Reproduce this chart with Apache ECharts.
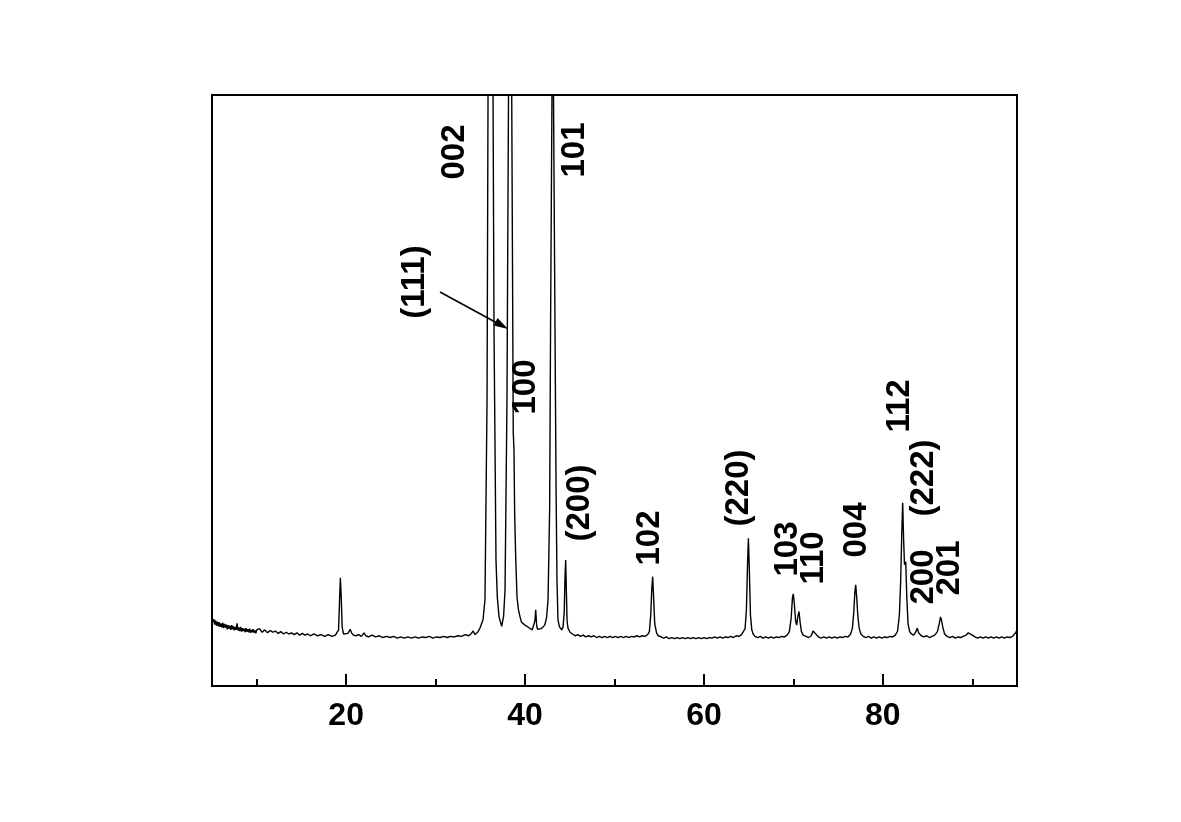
<!DOCTYPE html>
<html>
<head>
<meta charset="utf-8">
<title>XRD pattern</title>
<script src="https://cdn.jsdelivr.net/npm/echarts@6/dist/echarts.min.js"></script>
<style>
  html, body { margin: 0; padding: 0; background: #fff; }
  #chart { width: 1181px; height: 822px; }
</style>
</head>
<body>
<div id="chart"></div>
<script>
// 2-theta (deg), intensity (arb. units)
const twoTheta = [
  5.0, 5.1, 5.2, 5.3, 5.4, 5.5, 5.6, 5.7, 5.8, 5.9, 6.0, 6.1, 6.2, 6.3, 6.4, 6.5, 6.6, 6.7, 6.8, 6.9,
  7.0, 7.1, 7.2, 7.3, 7.4, 7.5, 7.6, 7.7, 7.8, 7.9, 8.0, 8.1, 8.2, 8.3, 8.4, 8.5, 8.6, 8.7, 8.8, 8.9,
  9.0, 9.1, 9.2, 9.3, 9.4, 9.5, 9.6, 9.7, 9.8, 9.9, 10.0,
  10.3, 10.6, 10.9, 11.2, 11.5, 11.8, 12.1, 12.4, 12.7, 13.0, 13.3, 13.6, 13.9, 14.2,
  14.5, 14.8, 15.1, 15.4, 15.7, 16.0, 16.4, 16.8, 17.2, 17.6, 18.0, 18.4, 18.8, 19.0, 19.15, 19.25, 19.35, 19.45, 19.55, 19.7,
  19.9, 20.2, 20.45, 20.6, 20.8, 21.1, 21.4, 21.7, 22.0, 22.2, 22.5, 22.9, 23.3, 23.7, 24.1, 24.5, 24.9, 25.3, 25.7, 26.1,
  26.5, 26.9, 27.3, 27.7, 28.1, 28.5, 28.9, 29.3, 29.7, 30.1, 30.5, 30.9, 31.3, 31.7, 32.1, 32.5, 32.9, 33.3, 33.7, 34.0,
  34.2, 34.4, 34.7, 34.96, 35.3, 35.52, 35.75, 35.86, 36.14, 36.42, 36.53, 36.75, 36.9, 37.09, 37.25, 37.39, 37.5, 37.6, 37.76, 37.98,
  38.15, 38.32, 38.51, 38.6, 38.68, 38.76, 38.8, 38.84, 38.95, 39.1, 39.25, 39.44, 39.6, 39.8, 40.0, 40.2, 40.4, 40.6, 40.8, 41.0,
  41.1, 41.19, 41.3, 41.4, 41.6, 41.8, 42.0, 42.2, 42.4, 42.57, 42.75, 42.85, 43.01, 43.09, 43.18, 43.35, 43.47, 43.57, 43.68, 43.85,
  44.1, 44.25, 44.38, 44.46, 44.54, 44.62, 44.7, 44.8, 45.03, 45.3, 45.6, 45.9, 46.2, 46.5, 46.8, 47.1, 47.4, 47.7, 48.0, 48.3,
  48.6, 48.9, 49.2, 49.5, 49.8, 50.1, 50.4, 50.7, 51.0, 51.3, 51.6, 51.9, 52.2, 52.5, 52.8, 53.1, 53.4, 53.7, 53.9, 54.05,
  54.17, 54.27, 54.37, 54.5, 54.7, 54.9, 55.2, 55.5, 55.8, 56.1, 56.4, 56.7, 57.0, 57.3, 57.6, 57.9, 58.2, 58.5, 58.8, 59.1,
  59.4, 59.7, 60.0, 60.3, 60.6, 60.9, 61.2, 61.5, 61.8, 62.1, 62.4, 62.7, 63.0, 63.3, 63.6, 63.9, 64.2, 64.4, 64.6, 64.75,
  64.88, 64.97, 65.07, 65.2, 65.35, 65.5, 65.7, 66.0, 66.3, 66.6, 66.9, 67.2, 67.5, 67.8, 68.1, 68.4, 68.7, 69.0, 69.3, 69.55,
  69.75, 69.9, 69.99, 70.1, 70.25, 70.37, 70.5, 70.63, 70.75, 70.9, 71.1, 71.4, 71.7, 72.0, 72.2, 72.34, 72.5, 72.8, 73.1, 73.4,
  73.7, 74.0, 74.3, 74.6, 74.9, 75.2, 75.5, 75.8, 76.1, 76.4, 76.6, 76.75, 76.88, 76.97, 77.08, 77.2, 77.35, 77.55, 77.8, 78.1,
  78.4, 78.7, 79.0, 79.3, 79.6, 79.9, 80.2, 80.5, 80.8, 81.1, 81.4, 81.65, 81.85, 82.0, 82.12, 82.22, 82.32, 82.42, 82.56, 82.68,
  82.82, 83.0, 83.2, 83.45, 83.7, 83.86, 84.0, 84.3, 84.6, 84.9, 85.2, 85.5, 85.8, 86.1, 86.3, 86.45, 86.55, 86.7, 86.9, 87.2,
  87.5, 87.8, 88.1, 88.4, 88.7, 89.0, 89.3, 89.55, 89.75, 90.0, 90.3, 90.6, 90.9, 91.2, 91.5, 91.8, 92.1, 92.4, 92.7, 93.0,
  93.3, 93.6, 93.9, 94.2, 94.5, 94.7, 94.85, 95.0
];
const intensity = [
  118, 108, 113, 104, 111, 102, 109, 101, 108, 100, 106, 99, 107, 98, 105, 99, 104, 96, 103, 97,
  102, 95, 103, 96, 101, 94, 100, 95, 106, 94, 99, 93, 100, 92, 98, 93, 97, 91, 98, 92,
  96, 91, 97, 90, 95, 91, 96, 90, 94, 89, 95,
  97, 91, 95, 90, 94, 91, 93, 89, 92, 88, 91, 88, 90, 87,
  90, 86, 89, 86, 88, 85, 88, 85, 87, 84, 87, 84, 86, 85, 95, 140, 183, 150, 100, 88,
  86, 89, 96, 90, 86, 85, 87, 84, 90, 85, 83, 86, 83, 85, 82, 84, 82, 84, 81, 83,
  81, 83, 81, 83, 81, 83, 82, 84, 81, 83, 82, 84, 82, 84, 83, 85, 84, 87, 85, 89,
  93, 87, 91, 98, 112, 146, 484, 1000, 4000, 1000, 602, 213, 150, 117, 108, 101, 110, 118, 162, 484,
  1000, 5000, 1000, 700, 430, 400, 403, 290, 220, 151, 130, 117, 108, 110, 103, 106, 99, 101, 95, 97,
  110, 129, 102, 96, 93, 97, 94, 103, 115, 146, 300, 602, 1000, 1150, 1000, 602, 330, 179, 112, 100,
  95, 100, 125, 180, 213, 160, 110, 98, 91, 88, 85, 87, 84, 86, 83, 85, 83, 85, 82, 84,
  82, 84, 82, 84, 82, 84, 82, 84, 82, 84, 82, 84, 83, 85, 83, 85, 84, 87, 92, 120,
  165, 185, 150, 105, 90, 85, 83, 81, 83, 80, 82, 80, 82, 80, 82, 80, 82, 80, 82, 80,
  82, 80, 82, 80, 82, 81, 83, 81, 83, 81, 83, 82, 84, 82, 85, 84, 87, 90, 97, 130,
  210, 250, 200, 120, 95, 88, 84, 82, 84, 81, 83, 81, 83, 81, 83, 82, 84, 83, 86, 92,
  115, 150, 156, 140, 110, 103, 118, 126, 108, 92, 86, 84, 82, 85, 93, 96, 88, 83, 81, 83,
  81, 83, 81, 83, 81, 83, 82, 84, 83, 88, 98, 125, 160, 171, 150, 120, 98, 88, 84, 82,
  84, 81, 83, 81, 83, 81, 83, 82, 84, 83, 86, 93, 120, 180, 260, 310, 250, 205, 210, 150,
  105, 92, 88, 86, 92, 98, 90, 85, 83, 85, 82, 84, 86, 92, 105, 117, 112, 100, 88, 84,
  82, 84, 81, 83, 82, 84, 86, 90, 90, 86, 83, 81, 83, 81, 83, 81, 83, 81, 83, 81,
  83, 81, 83, 82, 84, 86, 90, 95
];
const majorTicks = [20, 40, 60, 80];
const minorTicks = [10, 30, 50, 70, 90];

const chart = echarts.init(document.getElementById('chart'), null, { renderer: 'canvas' });

const labelFont = 'bold 33px "Liberation Sans", Arial, sans-serif';
function peakLabel(text, x, y) {
  return {
    type: 'text',
    x: x,
    y: y,
    rotation: Math.PI / 2,
    style: {
      text: text,
      font: labelFont,
      fill: '#000',
      align: 'center',
      verticalAlign: 'middle'
    },
    z: 100
  };
}

chart.setOption({
  animation: false,
  backgroundColor: '#fff',
  grid: {
    left: 212,
    top: 95,
    right: 164,
    bottom: 136,
    show: true,
    borderColor: '#000',
    borderWidth: 2
  },
  xAxis: [
    {
      type: 'value',
      min: 5,
      max: 95,
      axisLine: { show: true, lineStyle: { color: '#000', width: 2 } },
      axisTick: {
        show: true,
        inside: true,
        length: 12,
        customValues: majorTicks,
        lineStyle: { color: '#000', width: 2 }
      },
      axisLabel: {
        customValues: majorTicks,
        color: '#000',
        fontSize: 32,
        fontWeight: 'bold',
        fontFamily: '"Liberation Sans", Arial, sans-serif',
        margin: 14
      },
      splitLine: { show: false }
    },
    {
      type: 'value',
      min: 5,
      max: 95,
      position: 'bottom',
      axisLine: { show: false },
      axisTick: {
        show: true,
        inside: true,
        length: 7,
        customValues: minorTicks,
        lineStyle: { color: '#000', width: 2 }
      },
      axisLabel: { show: false },
      splitLine: { show: false }
    }
  ],
  yAxis: {
    type: 'value',
    min: 0,
    max: 1000,
    axisLine: { show: true, lineStyle: { color: '#000', width: 2 } },
    axisTick: { show: false },
    axisLabel: { show: false },
    splitLine: { show: false }
  },
  series: [
    {
      type: 'line',
      xAxisIndex: 0,
      data: twoTheta.map((t, i) => [t, intensity[i]]),
      showSymbol: false,
      symbol: 'none',
      clip: true,
      lineStyle: { color: '#000', width: 1.4 }
    }
  ],
  graphic: [
    peakLabel('002', 455, 152),
    peakLabel('101', 575, 150),
    peakLabel('(111)', 415, 282),
    peakLabel('100', 526, 387),
    peakLabel('(200)', 580, 503),
    peakLabel('102', 650, 538),
    peakLabel('(220)', 739, 488),
    peakLabel('103', 788, 549),
    peakLabel('110', 814, 558),
    peakLabel('004', 857, 530),
    peakLabel('112', 900, 406),
    peakLabel('(222)', 924, 478),
    peakLabel('200', 924, 577),
    peakLabel('201', 950, 568),
    {
      type: 'line',
      shape: { x1: 440, y1: 292, x2: 497, y2: 323 },
      style: { stroke: '#000', lineWidth: 1.5 },
      z: 100
    },
    {
      type: 'polygon',
      shape: { points: [[508, 329], [493.5, 325.6], [497.6, 318.0]] },
      style: { fill: '#000' },
      z: 100
    }
  ]
});
</script>
</body>
</html>
